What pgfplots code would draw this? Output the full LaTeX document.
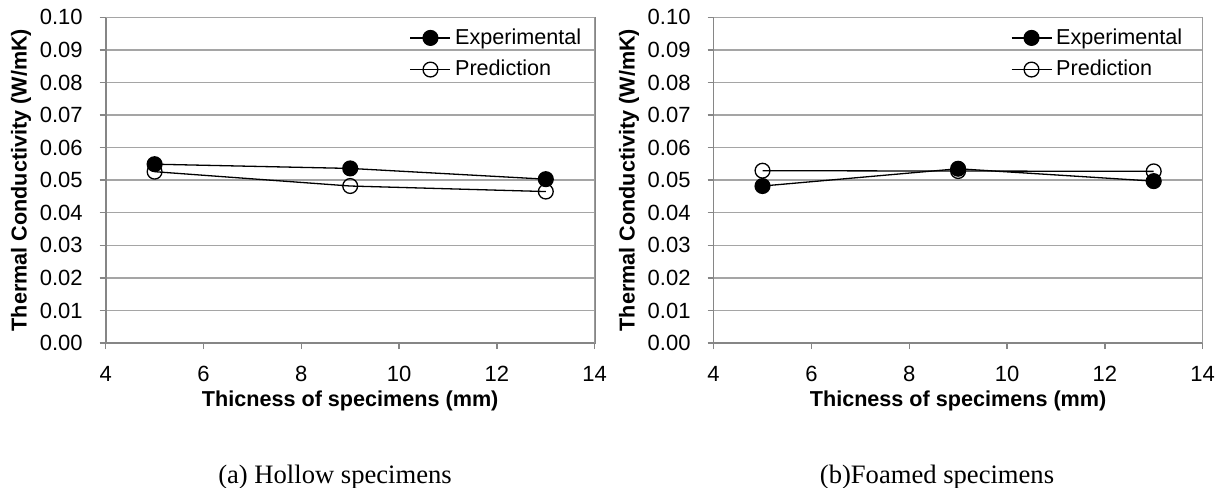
\documentclass[border=0pt]{standalone}
\usepackage{fontspec}
\setmainfont{Liberation Sans}
\newfontfamily\capfont{Liberation Serif}
\usepackage{pgfplots}
\pgfplotsset{compat=1.18}
\definecolor{gridgray}{RGB}{165,165,165}
\definecolor{axgray}{RGB}{134,134,134}

\pgfplotsset{
  tcplot/.style={
    scale only axis,
    width=244.5pt, height=162.85pt,
    xmin=4, xmax=14, ymin=0, ymax=0.10,
    xtick={4,6,...,14},
    ytick={0,0.01,...,0.1},
    yticklabel style={xshift=-5pt, /pgf/number format/.cd, fixed, fixed zerofill, precision=2},
    xticklabel style={yshift=-5pt},
    /pgf/number format/assume math mode=true,
    tick label style={font=\fontsize{11}{12}\selectfont, black},
    label style={font=\bfseries\fontsize{10.8}{12}\selectfont},
    axis line style={axgray, line width=0.8pt},
    ymajorgrids, grid style={gridgray, line width=0.7pt},
    tick style={axgray, line width=0.7pt},
    tick align=outside, tick pos=left, major tick length=3pt,
    xlabel={Thicness of specimens (mm)},
    ylabel={Thermal Conductivity (W/mK)},
    xlabel style={at={(axis description cs:0.5,-0.178)}, anchor=center},
    ylabel style={at={(axis description cs:-0.173,0.5)}, anchor=center},
    legend style={draw=none, fill=none, font=\fontsize{10.8}{12}\selectfont,
      row sep=2.5pt, inner sep=1pt},
    legend cell align=left,
    reverse legend,
    legend image code/.code={
      \draw[mark repeat=2, mark phase=2] plot coordinates {(0pt,0pt) (10pt,0pt) (20pt,0pt)};},
    expstyle/.style={black, line width=0.65pt, mark=*, mark size=3.7pt,
      mark options={fill=black, solid}},
    predstyle/.style={black, line width=0.65pt, mark=o, mark size=3.7pt,
      mark options={fill=white, solid}},
  }
}

\begin{document}
\begin{tikzpicture}
\path[use as bounding box] (0pt,0pt) rectangle (612.5pt,-243.5pt);

% (a) hollow specimens
\begin{axis}[tcplot, at={(52.85pt,-171.5pt)}, anchor=south west,
  legend style={at={(axis description cs:0.617,0.985)}, anchor=north west}]
\addplot[predstyle] coordinates {(5,0.0526) (9,0.0482) (13,0.0465)};
\addplot[expstyle] coordinates {(5,0.0549) (9,0.0536) (13,0.0503)};
\legend{Prediction, Experimental}
\draw[gridgray, line width=0.7pt] (rel axis cs:0,1) -- (rel axis cs:1,1) -- (rel axis cs:1,0);
\end{axis}

% (b) foamed specimens
\begin{axis}[tcplot, at={(356.8pt,-171.5pt)}, anchor=south west,
  legend style={at={(axis description cs:0.603,0.985)}, anchor=north west}]
\addplot[predstyle] coordinates {(5,0.0529) (9,0.0528) (13,0.0527)};
\addplot[expstyle] coordinates {(5,0.0482) (9,0.0535) (13,0.0497)};
\legend{Prediction, Experimental}
\draw[gridgray, line width=0.7pt] (rel axis cs:0,1) -- (rel axis cs:1,1) -- (rel axis cs:1,0);
\end{axis}

\node[anchor=base, font=\capfont\fontsize{13.3}{15}\selectfont] at (167.5pt,-241.5pt) {(a) Hollow specimens};
\node[anchor=base, font=\capfont\fontsize{13.3}{15}\selectfont] at (468.5pt,-241.5pt) {(b)Foamed specimens};
\end{tikzpicture}
\end{document}
